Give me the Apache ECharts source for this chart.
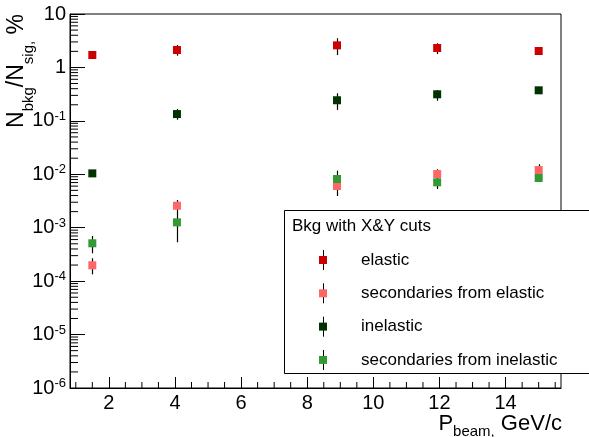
<!DOCTYPE html>
<html>
<head>
<meta charset="utf-8">
<script src="https://cdn.jsdelivr.net/npm/echarts@6/dist/echarts.min.js"></script>
<style>
  html, body { margin: 0; padding: 0; background: #fff; }
  #chart { width: 589px; height: 437px; }
</style>
</head>
<body>
<div id="chart"></div>
<script>
// beam momentum, GeV/c
const pBeam = [1.5, 4.06, 8.9, 11.93, 15.0]

// Nbkg/Nsig in %, each with low / high end of the error bar
const elastic = [1.71, 2.12, 2.59, 2.31, 2.03]
const elasticLo = [1.66, 1.66, 1.71, 1.78, 1.98]
const elasticHi = [1.77, 2.63, 3.51, 2.83, 2.09]

const secElastic = [1.98e-4, 2.58e-3, 6.04e-3, 1.01e-2, 1.2e-2]
const secElasticLo = [1.34e-4, 2.05e-3, 3.93e-3, 8.3e-3, 1.05e-2]
const secElasticHi = [2.68e-4, 3.3e-3, 8.6e-3, 1.24e-2, 1.54e-2]

const inelastic = [0.0104, 0.134, 0.243, 0.314, 0.373]
const inelasticLo = [0.0101, 0.105, 0.16, 0.238, 0.362]
const inelasticHi = [0.0107, 0.167, 0.328, 0.378, 0.384]

const secInelastic = [5.11e-4, 1.26e-3, 8.17e-3, 7.08e-3, 8.53e-3]
const secInelasticLo = [3.32e-4, 5.33e-4, 5.5e-3, 5.31e-3, 7.7e-3]
const secInelasticHi = [7.0e-4, 2.06e-3, 1.17e-2, 8.5e-3, 9.3e-3]

const seriesNames = ['elastic', 'secondaries from elastic', 'inelastic', 'secondaries from inelastic']
const seriesColors = ['#cc0000', '#ff6666', '#003300', '#339933']

// axis ranges
const xMin = 0.825
const xMax = 15.675
const yMin = 1e-6
const yMax = 10

const font = 'Liberation Sans, Arial, Helvetica, sans-serif'

// minor ticks (ROOT style): 2..9 in every decade, every 0.5 on x
const yMinorTicks = []
for (let e = -6; e < 1; e++) {
  for (let m = 2; m <= 9; m++) yMinorTicks.push(m * Math.pow(10, e))
}
const xMinorTicks = []
for (let v = 1; v < xMax; v += 0.5) {
  if (v % 2 !== 0) xMinorTicks.push(v)
}

const chart = echarts.init(document.getElementById('chart'))

const pointsOf = (vals) => pBeam.map((x, i) => [x, vals[i]])
const barsOf = (lo, hi) => pBeam.map((x, i) => [x, lo[i], hi[i]])

const scatterSeries = [elastic, secElastic, inelastic, secInelastic].map((vals, k) => ({
  name: seriesNames[k],
  type: 'scatter',
  symbol: 'rect',
  symbolSize: 8,
  itemStyle: { color: seriesColors[k], opacity: 1 },
  z: 5,
  data: pointsOf(vals)
}))

const errorSeries = [
  barsOf(elasticLo, elasticHi),
  barsOf(secElasticLo, secElasticHi),
  barsOf(inelasticLo, inelasticHi),
  barsOf(secInelasticLo, secInelasticHi)
].map(bars => ({
  type: 'custom',
  silent: true,
  z: 4,
  encode: { x: 0, y: [1, 2] },
  renderItem: (params, api) => {
    const p1 = api.coord([api.value(0), api.value(1)])
    const p2 = api.coord([api.value(0), api.value(2)])
    return {
      type: 'line',
      shape: { x1: Math.round(p1[0]) + 0.5, y1: p1[1], x2: Math.round(p1[0]) + 0.5, y2: p2[1] },
      style: { stroke: '#000', lineWidth: 1.2 }
    }
  },
  data: bars
}))

const tickSeries = [
  {
    type: 'custom',
    silent: true,
    clip: false,
    z: 3,
    renderItem: (params, api) => {
      const p = api.coord([api.value(0), api.value(1)])
      return {
        type: 'line',
        shape: { x1: p[0], y1: p[1], x2: p[0] + 8, y2: p[1] },
        style: { stroke: '#000', lineWidth: 1 }
      }
    },
    data: yMinorTicks.map(v => [xMin, v])
  },
  {
    type: 'custom',
    silent: true,
    clip: false,
    z: 3,
    renderItem: (params, api) => {
      const p = api.coord([api.value(0), api.value(1)])
      return {
        type: 'line',
        shape: { x1: p[0], y1: p[1], x2: p[0], y2: p[1] - 6 },
        style: { stroke: '#000', lineWidth: 1 }
      }
    },
    data: xMinorTicks.map(v => [v, yMin])
  }
]

// legend box rows
const legendRows = [260, 293.3, 326.7, 360]

const option = {
  animation: false,
  backgroundColor: '#fff',
  textStyle: { fontFamily: font },
  grid: {
    left: 70, top: 14, width: 491, height: 374,
    show: true, borderColor: '#000', borderWidth: 1, backgroundColor: 'transparent'
  },
  xAxis: {
    type: 'value',
    min: xMin,
    max: xMax,
    splitNumber: 7,
    axisLine: { lineStyle: { color: '#000', width: 1 } },
    axisTick: { inside: true, length: 11, lineStyle: { color: '#000' } },
    axisLabel: {
      showMinLabel: false, showMaxLabel: false,
      color: '#000', fontSize: 20, fontFamily: font, margin: 5
    },
    splitLine: { show: false }
  },
  yAxis: {
    type: 'log',
    logBase: 10,
    min: yMin,
    max: yMax,
    axisLine: { lineStyle: { color: '#000', width: 1 } },
    axisTick: { inside: true, length: 15, lineStyle: { color: '#000' } },
    axisLabel: {
      color: '#000',
      margin: 4,
      formatter: v => {
        const e = Math.round(Math.log10(v))
        if (e === 1) return '{b|10}'
        if (e === 0) return '{b|1}'
        return '{b|10}{s|' + e + '}'
      },
      rich: {
        b: { fontSize: 20, fontFamily: font, color: '#000' },
        s: { fontSize: 13, fontFamily: font, color: '#000', padding: [0, 0, 9, 0] }
      }
    },
    splitLine: { show: false }
  },
  legend: {
    data: seriesNames,
    orient: 'vertical',
    left: 319,
    top: 250,
    padding: 0,
    itemGap: 13.3,
    itemWidth: 8,
    itemHeight: 8,
    icon: 'rect',
    selectedMode: false,
    z: 20,
    textStyle: { fontSize: 17, fontFamily: font, color: '#000', lineHeight: 20, padding: [0, 0, 0, 29] }
  },
  graphic: [
    {
      type: 'rect', z: 10,
      shape: { x: 284.5, y: 210.5, width: 330, height: 163 },
      style: { fill: '#fff', stroke: '#000', lineWidth: 1 }
    },
    {
      type: 'text', z: 11, x: 292, y: 226,
      style: { text: 'Bkg with X&Y cuts', fontSize: 17, fontFamily: font, fill: '#000', verticalAlign: 'middle' }
    },
    ...legendRows.map(y => ({
      type: 'line', z: 11,
      shape: { x1: 323.5, y1: y - 10, x2: 323.5, y2: y + 10 },
      style: { stroke: '#000', lineWidth: 1 }
    })),
    {
      type: 'text', z: 11, x: 17, y: 14, rotation: Math.PI / 2,
      style: {
        text: '{n|N}{s|bkg}{n|/N}{s|sig,}{n| %}',
        align: 'right', verticalAlign: 'middle',
        rich: {
          n: { fontSize: 23, fontFamily: font, fill: '#000', lineHeight: 26 },
          s: { fontSize: 15, fontFamily: font, fill: '#000', lineHeight: 16, padding: [24, 0, 0, 0] }
        }
      }
    },
    {
      type: 'text', z: 11, x: 562, y: 424,
      style: {
        text: '{n|P}{s|beam,}{n| GeV/c}',
        align: 'right', verticalAlign: 'middle',
        rich: {
          n: { fontSize: 22, fontFamily: font, fill: '#000', lineHeight: 24 },
          s: { fontSize: 15, fontFamily: font, fill: '#000', lineHeight: 16, padding: [16, 0, 0, 0] }
        }
      }
    }
  ],
  series: [...tickSeries, ...errorSeries, ...scatterSeries]
}

chart.setOption(option)
</script>
</body>
</html>
